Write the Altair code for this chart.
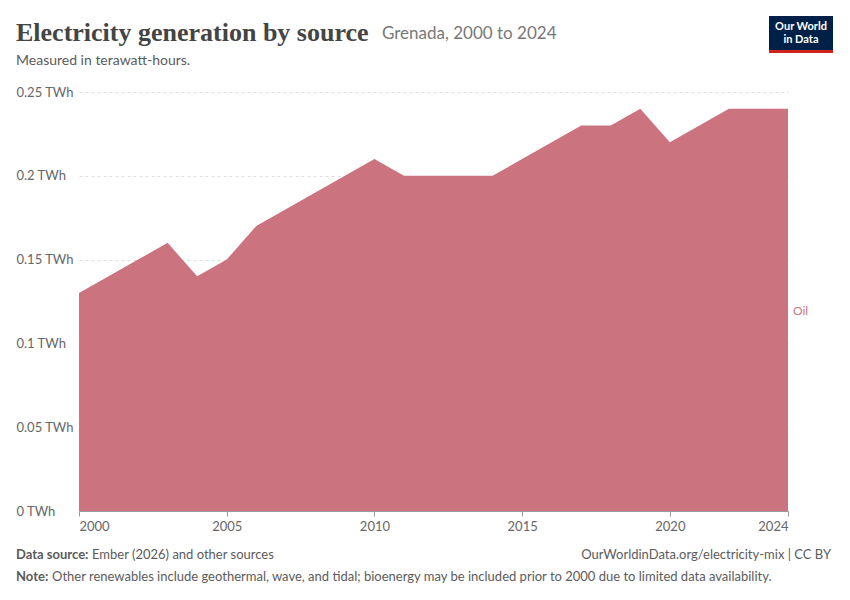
import altair as alt
import pandas as pd

years = list(range(2000, 2025))
oil = [0.13, 0.14, 0.15, 0.16, 0.14, 0.15, 0.17, 0.18, 0.19, 0.20, 0.21, 0.20, 0.20,
       0.20, 0.20, 0.21, 0.22, 0.23, 0.23, 0.24, 0.22, 0.23, 0.24, 0.24, 0.24]
df = pd.DataFrame({"year": years, "value": oil})
color = "#cc7380"

W, H = 709, 419
x = alt.X("year:Q", scale=alt.Scale(domain=[2000, 2024], nice=False, zero=False),
          axis=alt.Axis(values=[2000, 2005, 2010, 2015, 2020, 2024], format="d", title=None,
                        grid=False, domain=True, domainColor="#999", ticks=True, tickColor="#999",
                        labelFont="Lato", labelFontSize=13, labelColor="#666", labelPadding=4))
y = alt.Y("value:Q", scale=alt.Scale(domain=[0, 0.25], nice=False),
          axis=alt.Axis(values=[0, 0.05, 0.1, 0.15, 0.2, 0.25], labelExpr="datum.value + ' TWh'",
                        title=None, domain=False, ticks=False, gridDash=[3, 3], gridColor="#ddd",
                        labelAlign="left", labelPadding=63, labelBaseline="middle",
                        labelFont="Lato", labelFontSize=13, labelColor="#666"))
area = alt.Chart(df).mark_area(color=color, opacity=1).encode(x=x, y=y)

def txt(s, xp, yp, size=13, col="#5b5b5b", font="Lato", weight="normal", align="left"):
    return alt.Chart(pd.DataFrame({"t": [s]})).mark_text(
        align=align, baseline="middle", fontSize=size, color=col, font=font, fontWeight=weight
    ).encode(x=alt.value(xp), y=alt.value(yp), text="t:N")

ox, oy = 79, 92
texts = [
    txt("Electricity generation by source", 16 - ox, 33 - oy, 26, "#444", "Liberation Serif", "bold"),
    txt("Grenada, 2000 to 2024", 382 - ox, 34 - oy, 17, "#777"),
    txt("Measured in terawatt-hours.", 16 - ox, 61 - oy, 14, "#5b5b5b"),
    txt("Oil", 793 - ox, 311 - oy, 12, color),
    txt("Data source:", 16 - ox, 555 - oy, 13, "#5b5b5b", weight="bold"),
    txt("Ember (2026) and other sources", 92 - ox, 555 - oy, 13, "#5b5b5b"),
    txt("OurWorldinData.org/electricity-mix | CC BY", 831 - ox, 555 - oy, 13, "#5b5b5b", align="right"),
    txt("Note:", 16 - ox, 577 - oy, 13, "#5b5b5b", weight="bold"),
    txt("Other renewables include geothermal, wave, and tidal; bioenergy may be included prior to 2000 due to limited data availability.",
        52 - ox, 577 - oy, 13, "#5b5b5b"),
]
logo = alt.Chart(pd.DataFrame({"a": [0]})).mark_rect(color="#002147").encode(
    x=alt.value(769 - ox), x2=alt.value(833 - ox), y=alt.value(16 - oy), y2=alt.value(50 - oy))
logo_line = alt.Chart(pd.DataFrame({"a": [0]})).mark_rect(color="#ce261e").encode(
    x=alt.value(769 - ox), x2=alt.value(833 - ox), y=alt.value(50 - oy), y2=alt.value(53 - oy))
logo_t = [txt("Our World", 801 - ox, 27 - oy, 11, "white", weight="bold", align="center"),
          txt("in Data", 801 - ox, 40 - oy, 11, "white", weight="bold", align="center")]

chart = alt.layer(area, *texts, logo, logo_line, *logo_t).properties(
    width=W, height=H, autosize=alt.AutoSizeParams(type="none"),
    padding={"left": ox - 8, "top": oy - 8, "right": 54, "bottom": 80},
    background="white"
).configure_view(stroke=None, strokeWidth=0)

chart.save("out.html", embed_options={"renderer": "svg", "actions": False})
